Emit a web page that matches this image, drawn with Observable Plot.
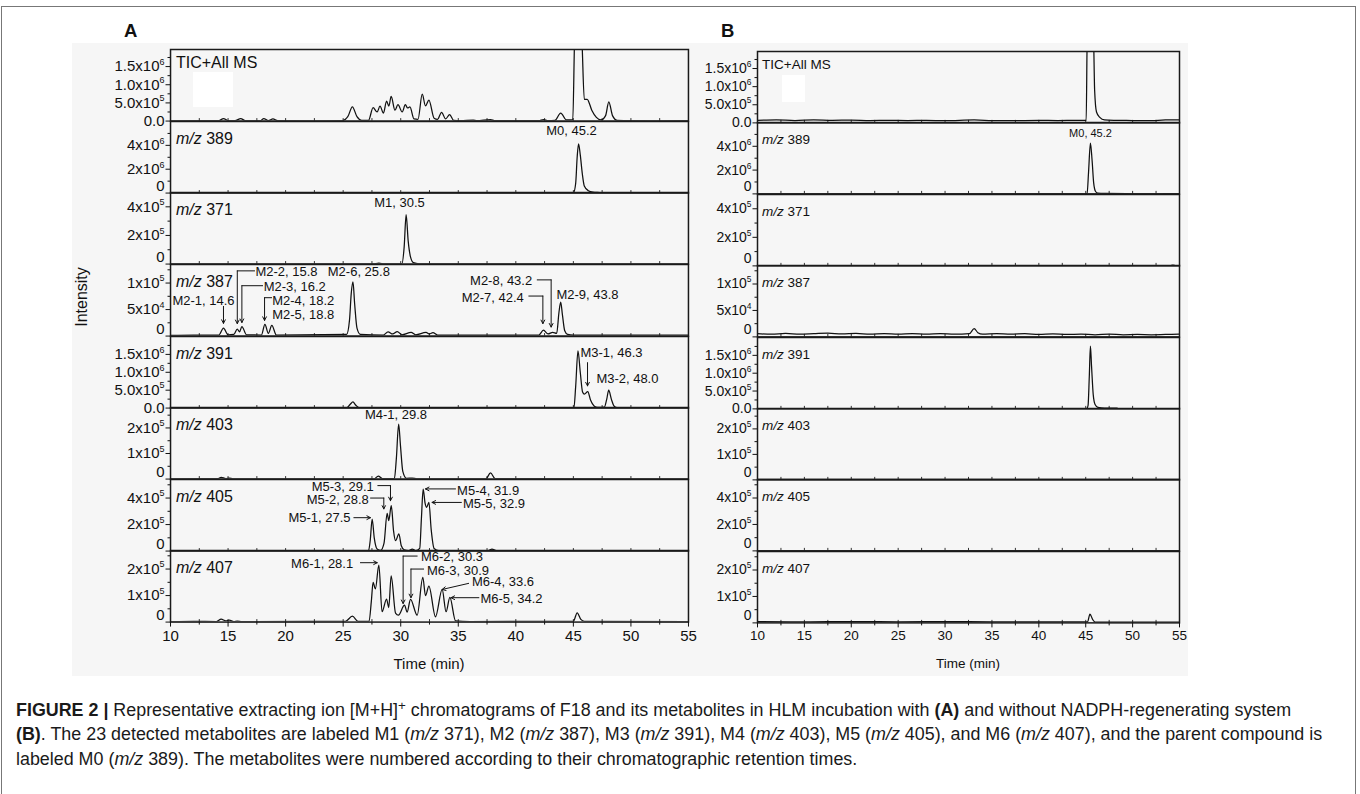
<!DOCTYPE html>
<html><head><meta charset="utf-8">
<script src="https://cdn.jsdelivr.net/npm/d3@7"></script>
<script src="https://cdn.jsdelivr.net/npm/@observablehq/plot@0.6"></script>
<style>
body{margin:0;background:#fff;}
#fig{position:relative;width:1360px;height:794px;overflow:hidden;font-family:"Liberation Sans",Arial,sans-serif;color:#111;}
.abs{position:absolute;}
.cap{position:absolute;left:16px;top:697.5px;font-size:15.5px;line-height:24.5px;color:#1a1a1a;white-space:nowrap;}
.cap sup{font-size:0.75em;line-height:0;vertical-align:0.45em;}
</style></head><body><div id="fig"></div><script>
// ---------------- DATA ----------------
const rowNames = ["TIC+All MS","m/z 389","m/z 371","m/z 387","m/z 391","m/z 403","m/z 405","m/z 407"];
const rowMax = [1.97e6, 6e6, 5e5, 1.35e5, 2e6, 2.8e5, 5.4e5, 2.7e5];
const rowTicks = [[0,5e5,1e6,1.5e6],[0,2e6,4e6],[0,2e5,4e5],[0,5e4,1e5],[0,5e5,1e6,1.5e6],[0,1e5,2e5],[0,2e5,4e5],[0,1e5,2e5]];
const rowTickLabels = [["0.0","5.0x10^5","1.0x10^6","1.5x10^6"],["0","2x10^6","4x10^6"],["0","2x10^5","4x10^5"],["0","5x10^4","1x10^5"],["0.0","5.0x10^5","1.0x10^6","1.5x10^6"],["0","1x10^5","2x10^5"],["0","2x10^5","4x10^5"],["0","1x10^5","2x10^5"]];
const rowMinor = [[2.5e5,7.5e5,1.25e6,1.75e6],[1e6,3e6,5e6],[1e5,3e5],[2.5e4,7.5e4,1.25e5],[2.5e5,7.5e5,1.25e6,1.75e6],[5e4,1.5e5,2.5e5],[1e5,3e5,5e5],[5e4,1.5e5,2.5e5]];
const timeTicks = [10,15,20,25,30,35,40,45,50,55];
const timeMinor = [12.5,17.5,22.5,27.5,32.5,37.5,42.5,47.5,52.5];
const innerTicks = [12.5,15,17.5,20,22.5,25,27.5,30,32.5,35,37.5,40,42.5,45,47.5,50,52.5];

// Panel A (with NADPH) — [time (min), intensity]
const A_TIC = [[10,8e3],[12,1e4],[14.2,1e4],[14.6,7e4],[15.0,1.2e4],[15.6,1e4],[16.1,7e4],[16.5,1e4],[17.8,1e4],[18.1,7e4],[18.5,1.5e4],[18.9,6e4],[19.3,1e4],[22,8e3],[24.9,1e4],[25.4,1.2e5],[25.8,3.9e5],[26.2,1.2e5],[26.6,2e4],[27.2,2e4],[27.6,3.7e5],[27.95,2.5e5],[28.2,4.1e5],[28.5,2.2e5],[28.77,5.5e5],[28.97,4.1e5],[29.17,6.8e5],[29.5,3e5],[29.76,4.5e5],[30.13,2.5e5],[30.4,4.5e5],[30.6,3.6e5],[30.8,3.9e5],[31.15,6e4],[31.5,5e4],[31.87,7.4e5],[32.15,4.2e5],[32.45,5.8e5],[32.9,8e4],[33.2,5e4],[33.55,2.4e5],[33.9,6e4],[34.25,1.8e5],[34.6,2e4],[35.2,1e4],[36.3,2.5e4],[36.6,1e4],[37.8,4e4],[38.2,1e4],[42,1e4],[42.4,4e4],[42.8,1e4],[43.4,2e4],[43.9,2.2e5],[44.4,3e4],[44.95,4e4],[45.1,2.2e6],[45.4,4e6],[45.75,2.2e6],[45.95,6e5],[46.2,6e5],[46.6,3e5],[47.0,1e5],[47.4,3e4],[47.8,1.5e5],[48.08,5.3e5],[48.4,1.5e5],[48.8,2e4],[50,1e4],[52,8e3],[55,1.5e4]];
const A_389 = [[10,5e3],[30,5e3],[43.5,5e3],[43.9,4e4],[44.3,5e3],[45.0,1e4],[45.2,8e5],[45.33,3e6],[45.45,4.13e6],[45.6,3.2e6],[45.78,1.6e6],[45.95,6e5],[46.3,2e5],[46.7,8e4],[47.3,4e4],[47.7,1e4],[55,5e3]];
const A_371 = [[10,1e3],[14.5,2e3],[15,1e3],[27.6,1e3],[28.1,6e3],[28.6,1e3],[30.1,2e3],[30.3,1.2e5],[30.47,3.45e5],[30.65,1.6e5],[30.85,5e4],[31.1,1e4],[31.6,2e3],[55,1e3]];
const A_387 = [[10,1.5e3],[12,2e3],[14.2,2e3],[14.6,1.5e4],[15.0,2.5e3],[15.5,3e3],[15.8,1.3e4],[16.0,8e3],[16.2,1.8e4],[16.6,2.5e3],[17.9,2e3],[18.2,2.2e4],[18.5,5e3],[18.8,2e4],[19.2,2e3],[25.3,3e3],[25.55,3e4],[25.7,8e4],[25.85,1.02e5],[26.0,6e4],[26.2,1.5e4],[26.5,3e3],[28.5,2e3],[28.9,8e3],[29.3,4e3],[29.7,8.5e3],[30.1,2.5e3],[30.9,7e3],[31.3,2.5e3],[32.2,7e3],[32.5,4e3],[32.8,6.5e3],[33.2,2e3],[38,2e3],[42.0,2e3],[42.4,1.1e4],[42.8,4e3],[43.2,7e3],[43.55,5e3],[43.75,4.5e4],[43.9,6.4e4],[44.05,4e4],[44.25,1e4],[44.5,3e3],[45,2e3],[55,2e3]];
const A_391 = [[10,5e3],[25.3,5e3],[25.6,1e5],[25.85,1.7e5],[26.1,8e4],[26.4,1e4],[45.05,1e4],[45.2,6e5],[45.4,1.6e6],[45.6,1.0e6],[45.8,4.5e5],[45.96,3.9e5],[46.25,4.6e5],[46.5,2.2e5],[46.8,6e4],[47.1,2e4],[47.7,3e4],[47.9,2.5e5],[48.07,5e5],[48.3,2.5e5],[48.55,5e4],[48.8,1e4],[55,5e3]];
const A_403 = [[10,1e3],[13.5,2e3],[14.1,1.5e3],[14.4,7e3],[14.8,2e3],[15.1,4e3],[15.4,1e3],[20,1e3],[27.7,1e3],[28.05,1.2e4],[28.4,2e3],[29.45,2e3],[29.62,8e4],[29.82,2.15e5],[29.98,1.3e5],[30.18,3e4],[30.5,3e3],[31.0,4e3],[31.4,1e3],[37.4,1e3],[37.8,2.4e4],[38.2,2e3],[55,1e3]];
const A_405 = [[10,2e3],[27.2,2e3],[27.35,8e4],[27.52,2.42e5],[27.7,1.0e5],[27.95,1.5e4],[28.25,5e3],[28.55,6e4],[28.82,2.85e5],[28.96,2.3e5],[29.18,3.43e5],[29.38,1.5e5],[29.55,7.8e4],[29.84,1.29e5],[30.05,4e4],[30.3,1e4],[30.7,4e3],[31.0,1.5e4],[31.3,4e3],[31.65,2e4],[31.8,2.5e5],[31.95,4.68e5],[32.12,3.6e5],[32.25,3.3e5],[32.45,3.67e5],[32.65,1.6e5],[32.9,2e4],[33.3,4e3],[37.6,3e3],[37.93,1.5e4],[38.3,3e3],[55,2e3]];
const A_407 = [[10,2e3],[12,3e3],[14.0,2e3],[14.4,1.1e4],[14.8,5e3],[15.1,7e3],[15.5,2e3],[15.8,4e3],[16.2,2e3],[25.2,3e3],[25.8,2.2e4],[26.3,3e3],[27.25,3e3],[27.45,8e4],[27.6,1.5e5],[27.8,1.25e5],[28.1,2.15e5],[28.38,3.9e4],[28.77,8.7e4],[28.96,5.5e4],[29.17,1.74e5],[29.55,3.4e4],[29.8,2.6e4],[30.33,6.4e4],[30.56,3.8e4],[30.85,8.6e4],[31.43,2.6e4],[31.92,1.69e5],[32.15,1.0e5],[32.45,1.36e5],[33.02,2e4],[33.6,1.23e5],[33.94,3.9e4],[34.27,9.3e4],[34.76,5e3],[36,2e3],[45.0,3e3],[45.33,3.5e4],[45.65,1e4],[45.95,3e3],[55,2e3]];

// Panel B (without NADPH)
const B_TIC = [[10,7e4],[12,8e4],[14,6.5e4],[16,8e4],[18,7e4],[20,7.5e4],[22,6.5e4],[24,7e4],[26,6.5e4],[28,7e4],[30,6e4],[33.1,8e4],[35,6.5e4],[37,6e4],[40,7e4],[42,6.5e4],[44,7e4],[45.05,7e4],[45.15,2.2e6],[45.5,4e6],[45.85,2.2e6],[45.95,9e5],[46.15,3e5],[46.5,1.5e5],[47.0,8e4],[48,7e4],[50,6.5e4],[52,6e4],[53.5,8e4],[55,8e4]];
const B_389 = [[10,3e3],[44.9,3e3],[45.15,4e4],[45.3,1.8e6],[45.5,4.27e6],[45.68,2.8e6],[45.85,9e5],[46.05,2e5],[46.3,6e4],[47,4e4],[49.3,3e4],[49.6,5e3],[53.2,5e3],[53.4,3e4],[55,3e4]];
const B_371 = [[10,2e3],[20,2e3],[30,1e3],[40,2e3],[50,1e3],[54,2e3],[54.3,5e3],[54.6,2e3],[55,2e3]];
const B_387 = [[10,6e3],[11.5,5e3],[13,6.5e3],[14.5,5e3],[16,6e3],[17.5,7e3],[19,5.5e3],[20.5,6.5e3],[22,5e3],[23.5,6e3],[25,5e3],[26.5,6e3],[28,5e3],[29.5,6e3],[31,5e3],[32.6,6e3],[33.1,1.55e4],[33.5,8e3],[34,5e3],[35.5,6e3],[37,5e3],[38.5,6e3],[40,4.5e3],[41.5,5.5e3],[43,4.5e3],[44.5,5e3],[46,4e3],[47.5,5e3],[49,4e3],[50.5,4.5e3],[52,4e3],[53.5,4.5e3],[55,5e3]];
const B_391 = [[10,5e3],[45.1,5e3],[45.25,1e5],[45.38,9e5],[45.5,1.76e6],[45.62,1.2e6],[45.8,4e5],[46.0,1.2e5],[46.3,4e4],[47,2e4],[48.3,2e4],[48.5,5e3],[55,5e3]];
const B_403 = [[10,1.5e3],[25,1.5e3],[40,1.5e3],[55,1.5e3]];
const B_405 = [[10,2e3],[25,2e3],[40,2e3],[55,2e3]];
const B_407 = [[10,5e3],[15,4e3],[20,5e3],[25,4e3],[30,5e3],[35,4e3],[40,4e3],[45.2,4e3],[45.45,3.3e4],[45.75,1.2e4],[46.0,3e3],[50,3e3],[55,3e3]];

const seriesA = [A_TIC, A_389, A_371, A_387, A_391, A_403, A_405, A_407];
const seriesB = [B_TIC, B_389, B_371, B_387, B_391, B_403, B_405, B_407];

// peak labels (text anchored at time t, intensity v of its row)
const peakLabelsA = [
 {row:1, label:"M0, 45.2", t:44.84, v:5.24e6, anchor:"middle"},
 {row:2, label:"M1, 30.5", t:29.9, v:4.28e5, anchor:"middle"},
 {row:3, label:"M2-1, 14.6", t:10.17, v:6.73e4, anchor:"start"},
 {row:3, label:"M2-2, 15.8", t:17.38, v:1.22e5, anchor:"start"},
 {row:3, label:"M2-3, 16.2", t:18.1, v:9.24e4, anchor:"start"},
 {row:3, label:"M2-4, 18.2", t:18.83, v:6.73e4, anchor:"start"},
 {row:3, label:"M2-5, 18.8", t:18.83, v:4.09e4, anchor:"start"},
 {row:3, label:"M2-6, 25.8", t:26.36, v:1.21e5, anchor:"middle"},
 {row:3, label:"M2-8, 43.2", t:41.42, v:1.05e5, anchor:"end"},
 {row:3, label:"M2-7, 42.4", t:40.69, v:7.24e4, anchor:"end"},
 {row:3, label:"M2-9, 43.8", t:43.53, v:7.86e4, anchor:"start"},
 {row:4, label:"M3-1, 46.3", t:45.62, v:1.55e6, anchor:"start"},
 {row:4, label:"M3-2, 48.0", t:47.0, v:8.1e5, anchor:"start"},
 {row:5, label:"M4-1, 29.8", t:29.59, v:2.5e5, anchor:"middle"},
 {row:6, label:"M5-3, 29.1", t:27.66, v:4.81e5, anchor:"end"},
 {row:6, label:"M5-2, 28.8", t:27.23, v:3.86e5, anchor:"end"},
 {row:6, label:"M5-1, 27.5", t:25.64, v:2.54e5, anchor:"end"},
 {row:6, label:"M5-4, 31.9", t:34.9, v:4.56e5, anchor:"start"},
 {row:6, label:"M5-5, 32.9", t:35.41, v:3.6e5, anchor:"start"},
 {row:7, label:"M6-1, 28.1", t:25.87, v:2.18e5, anchor:"end"},
 {row:7, label:"M6-2, 30.3", t:31.76, v:2.46e5, anchor:"start"},
 {row:7, label:"M6-3, 30.9", t:32.28, v:1.94e5, anchor:"start"},
 {row:7, label:"M6-4, 33.6", t:36.19, v:1.52e5, anchor:"start"},
 {row:7, label:"M6-5, 34.2", t:36.93, v:8.68e4, anchor:"start"}
];
const peakLabelsB = [{row:1, label:"M0, 45.2", t:45.51, v:5.1e6, anchor:"middle"}];
// leader lines: last segment carries the arrowhead
const leadersA = [
 {row:3, pts:[[14.6,5.6e4],[14.6,2.4e4]]},
 {row:3, pts:[[17.3,1.23e5],[15.8,1.23e5],[15.8,2.35e4]]},
 {row:3, pts:[[18.0,9.5e4],[16.2,9.5e4],[16.2,2.56e4]]},
 {row:3, pts:[[18.78,7.24e4],[18.17,7.24e4],[18.17,2.96e4]]},
 {row:3, pts:[[41.86,1.06e5],[43.07,1.06e5],[43.07,1.7e4]]},
 {row:3, pts:[[41.13,7.55e4],[42.35,7.55e4],[42.35,2.35e4]]},
 {row:4, pts:[[46.23,1.27e6],[46.23,6.2e5]]},
 {row:6, pts:[[28.01,4.94e5],[29.11,4.94e5],[29.11,3.8e5]]},
 {row:6, pts:[[27.38,4.0e5],[28.53,4.0e5],[28.53,3.18e5]]},
 {row:6, pts:[[25.93,2.52e5],[27.37,2.52e5]]},
 {row:6, pts:[[34.76,4.69e5],[32.15,4.69e5]]},
 {row:6, pts:[[35.27,3.67e5],[32.72,3.67e5]]},
 {row:7, pts:[[26.5,2.24e5],[27.96,2.24e5]]},
 {row:7, pts:[[31.43,2.49e5],[30.21,2.49e5],[30.21,7.0e4]]},
 {row:7, pts:[[31.99,2.0e5],[30.89,2.0e5],[30.89,9.2e4]]},
 {row:7, pts:[[35.9,1.46e5],[33.6,1.23e5]]},
 {row:7, pts:[[36.79,9.2e4],[34.37,9.2e4]]}
];
const leadersB = [];

// ---------------- LAYOUT ----------------
const panels = {
  A: {left:170, right:688, top:49.3, rowH:71.5875, tickFs:15, labelFs:16, xFs:15, annFs:13, labelDx:5.5, supDy:-6.5, series:seriesA, labels:peakLabelsA, leaders:leadersA},
  B: {left:757, right:1179, top:51, rowH:71.375, tickFs:14, labelFs:13.5, xFs:13.5, annFs:11, labelDx:4.5, supDy:-6, series:seriesB, labels:peakLabelsB, leaders:leadersB}
};
const FONT = '"Liberation Sans", Arial, sans-serif';

function makeRow(P, i) {
  const last = i === 7;
  const ML = 110, MR = 14, MB = last ? 40 : 0;
  const w = ML + (P.right - P.left) + MR;
  const h = P.rowH + MB;
  const fmt = d => rowTickLabels[i][rowTicks[i].indexOf(d)];
  const marks = [
    Plot.axisY({ticks: rowMinor[i], tickSize: 2.5, tickFormat: () => "", label: null}),
    Plot.axisY({ticks: rowTicks[i], tickSize: 4.5, tickPadding: 1.5, tickFormat: fmt, fontSize: P.tickFs, label: null}),
    Plot.ruleX(innerTicks, {x: d => d, y1: 0, y2: rowMax[i] * 0.035, stroke: "#333", strokeWidth: 1}),
    Plot.line(P.series[i], {x: d => d[0], y: d => d[1], curve: "monotone-x", stroke: "#111", strokeWidth: 1.25, clip: true}),
    Plot.frame({stroke: "#1a1a1a", strokeWidth: 1.5}),
    Plot.text([rowNames[i]], {text: d => d, frameAnchor: "top-left", dx: P.labelDx, dy: i === 0 ? 13 : 17, lineAnchor: "middle", textAnchor: "start", fontSize: P.labelFs})
  ];
  const labs = P.labels.filter(d => d.row === i);
  for (const anchor of ["start", "middle", "end"]) {
    const sub = labs.filter(d => d.anchor === anchor);
    if (sub.length) marks.push(Plot.text(sub, {x: "t", y: "v", text: "label", textAnchor: anchor, lineAnchor: "middle", fontSize: P.annFs}));
  }
  const leads = P.leaders.filter(d => d.row === i);
  const poly = [], arrows = [];
  leads.forEach((L, k) => {
    const p = L.pts;
    if (p.length > 2) for (let j = 0; j < p.length - 1; j++) poly.push({id: k, t: p[j][0], v: p[j][1]});
    const a = p[p.length - 2], b = p[p.length - 1];
    arrows.push({x1: a[0], y1: a[1], x2: b[0], y2: b[1]});
  });
  if (poly.length) marks.push(Plot.line(poly, {x: "t", y: "v", z: "id", stroke: "#111", strokeWidth: 1}));
  if (arrows.length) marks.push(Plot.arrow(arrows, {x1: "x1", y1: "y1", x2: "x2", y2: "y2", stroke: "#111", strokeWidth: 1, headLength: 6, headAngle: 55, inset: 0}));
  if (last) {
    marks.push(Plot.axisX({ticks: timeMinor, tickSize: 3, tickFormat: () => "", label: null}));
    marks.push(Plot.axisX({ticks: timeTicks, tickSize: 5, tickPadding: 3, tickFormat: d => String(d), fontSize: P.xFs, label: null}));
  }
  const svg = Plot.plot({
    width: w, height: h, marginLeft: ML, marginRight: MR, marginTop: 0, marginBottom: MB,
    x: last ? {domain: [10, 55]} : {domain: [10, 55], axis: null},
    y: {domain: [0, rowMax[i]]},
    style: {background: "transparent", overflow: "visible", fontFamily: FONT, fontSize: P.tickFs + "px", color: "#111"},
    marks
  });
  // rich text: superscripts, italic m/z, bare zero labels lifted slightly off the row border
  d3.select(svg).selectAll("text").each(function() {
    const s = this.textContent;
    const el = d3.select(this);
    if (s.includes("^")) {
      const [b, e] = s.split("^");
      el.text(b);
      el.append("tspan").attr("dy", P.supDy).attr("font-size", "0.6em").text(e);
    } else if (s.startsWith("m/z ")) {
      el.text(null);
      el.append("tspan").attr("font-style", "italic").text("m/z");
      el.append("tspan").text(s.slice(3));
    } else if (s === "0" && el.attr("text-anchor") !== "middle") {
      el.attr("y", -2.5);
    }
  });
  return {svg, ML, w, h};
}

const fig = document.getElementById("fig");
function addDiv(css, html) { const d = document.createElement("div"); d.className = "abs"; d.style.cssText = css; if (html) d.innerHTML = html; fig.appendChild(d); return d; }

// frame & background
addDiv("left:1px;top:6px;width:1355px;height:820px;border:1.5px solid #777;box-sizing:border-box;");
addDiv("left:72px;top:43px;width:1116px;height:633px;background:#f6f6f6;");
addDiv("left:193px;top:72px;width:40px;height:35px;background:#fff;");
addDiv("left:782px;top:75px;width:23px;height:27px;background:#fff;");

for (const pk of ["A", "B"]) {
  const P = panels[pk];
  for (let i = 0; i < 8; i++) {
    const {svg, ML, w, h} = makeRow(P, i);
    const wrap = addDiv(`left:${P.left - ML}px;top:${P.top + i * P.rowH}px;width:${w}px;height:${h}px;`);
    wrap.appendChild(svg);
  }
}

// panel letters and axis titles
addDiv(`left:124px;top:20px;font-weight:bold;font-size:18.5px;font-family:${FONT};`, "A");
addDiv(`left:721px;top:20px;font-weight:bold;font-size:18.5px;font-family:${FONT};`, "B");
addDiv(`left:82px;top:297px;transform:translate(-50%,-50%) rotate(-90deg);font-size:16px;white-space:nowrap;font-family:${FONT};`, "Intensity");
addDiv(`left:429px;top:663px;transform:translate(-50%,-50%);font-size:15px;white-space:nowrap;font-family:${FONT};`, "Time (min)");
addDiv(`left:968px;top:663px;transform:translate(-50%,-50%);font-size:13.5px;white-space:nowrap;font-family:${FONT};`, "Time (min)");

// caption
const cap = addDiv("", "");
cap.className = "cap";
cap.innerHTML =
 '<div><span><b>FIGURE 2 |</b> Representative extracting ion [M+H]<sup>+</sup> chromatograms of F18 and its metabolites in HLM incubation with <b>(A)</b> and without NADPH-regenerating system</span></div>' +
 '<div><span><b>(B)</b>. The 23 detected metabolites are labeled M1 (<i>m/z</i> 371), M2 (<i>m/z</i> 387), M3 (<i>m/z</i> 391), M4 (<i>m/z</i> 403), M5 (<i>m/z</i> 405), and M6 (<i>m/z</i> 407), and the parent compound is</span></div>' +
 '<div><span>labeled M0 (<i>m/z</i> 389). The metabolites were numbered according to their chromatographic retention times.</span></div>';
const first = cap.querySelector("span");
const natural = first.getBoundingClientRect().width;
cap.style.fontSize = (15.5 * 1276 / natural).toFixed(2) + "px";
cap.style.top = (710 - 12.25 - (parseFloat(cap.style.fontSize) - 15.5) * 0.1) + "px";
</script></body></html>
